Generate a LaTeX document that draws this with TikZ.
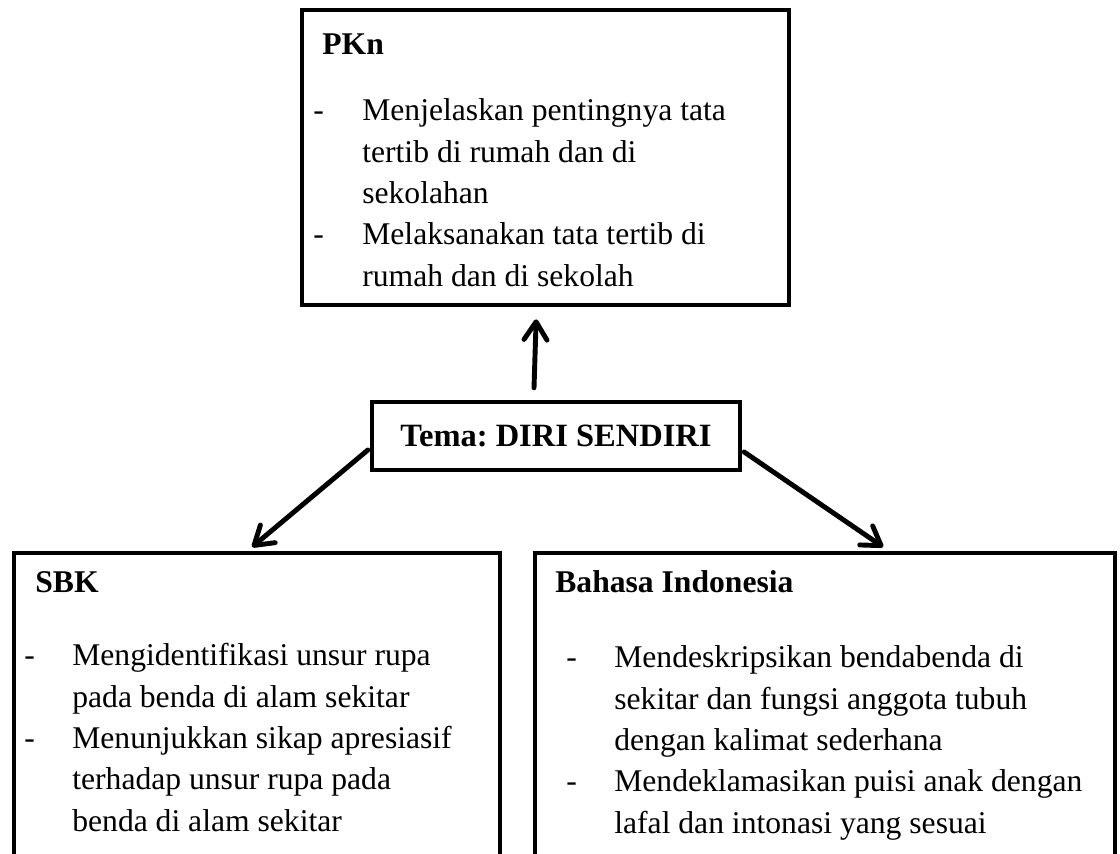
\documentclass[tikz,border=0pt]{standalone}
\usepackage{fontspec}
\setmainfont{Liberation Serif}
\usetikzlibrary{arrows.meta}

\begin{document}
\frenchspacing
\begin{tikzpicture}[
  x=0.02cm, y=-0.02cm,
  every node/.style={font=\fontsize{18}{23.5}\selectfont},
  box/.style={draw, rectangle, line width=2.5pt, inner sep=0pt, anchor=north west},
  title/.style={anchor=base west, inner sep=0pt, font=\fontsize{18}{23.5}\selectfont\bfseries},
  items/.style={anchor=base west, inner sep=0pt},
  link/.style={-{Straight Barb[length=0.36cm, width=0.46cm, round]}, line width=2.8pt, line cap=round}]

  \path[use as bounding box, clip] (0,0) rectangle (1120,854);

  % the four boxes
  \node[box, minimum width=9.74cm, minimum height=5.9cm] (pkn) at (300,8) {};
  \node[box, anchor=center, minimum width=7.36cm, minimum height=1.36cm,
        font=\fontsize{18.5}{23.5}\selectfont\bfseries] (tema) at (556,436) {Tema: DIRI SENDIRI};
  \node[box, minimum width=9.72cm, minimum height=7cm] (sbk) at (12,551) {};
  \node[box, minimum width=11.6cm, minimum height=7cm] (bindo) at (533,551) {};

  % texts inside the boxes
  \node[title] (pkn-title) at (322,55) {PKn};
  \node[items] (pkn-list) at (313,121) {\begin{tabular}[t]{@{}p{0.98cm}@{}l@{}}
    - & Menjelaskan pentingnya tata\\
      & tertib di rumah dan di\\
      & sekolahan\\
    - & Melaksanakan tata tertib di\\
      & rumah dan di sekolah
  \end{tabular}};

  \node[title] (sbk-title) at (35,593) {SBK};
  \node[items] (sbk-list) at (24,666) {\begin{tabular}[t]{@{}p{0.96cm}@{}l@{}}
    - & Mengidentifikasi unsur rupa\\
      & pada benda di alam sekitar\\
    - & Menunjukkan sikap apresiasif\\
      & terhadap unsur rupa pada\\
      & benda di alam sekitar
  \end{tabular}};

  \node[title] (bindo-title) at (555,593) {Bahasa Indonesia};
  \node[items] (bindo-list) at (566,668) {\begin{tabular}[t]{@{}p{0.96cm}@{}l@{}}
    - & Mendeskripsikan bendabenda di\\
      & sekitar dan fungsi anggota tubuh\\
      & dengan kalimat sederhana\\
    - & Mendeklamasikan puisi anak dengan\\
      & lafal dan intonasi yang sesuai
  \end{tabular}};

  % arrows from the theme
  \draw[link] ([xshift=-0.44cm, yshift=0.24cm]tema.north) -- ([xshift=-0.19cm, yshift=-0.24cm]pkn.south);
  \draw[link] ([xshift=-0.04cm, yshift=-0.28cm]tema.west) -- ([xshift=-0.1cm, yshift=0.08cm]sbk.north);
  \draw[link] ([xshift=0.04cm, yshift=-0.32cm]tema.east) -- ([xshift=1.16cm, yshift=0.08cm]bindo.north);

\end{tikzpicture}
\end{document}
